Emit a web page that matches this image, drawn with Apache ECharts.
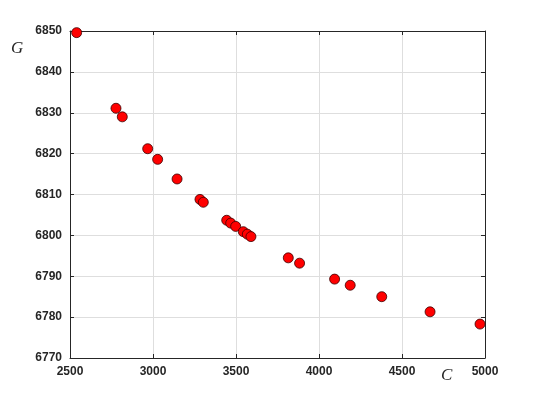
<!DOCTYPE html>
<html>
<head>
<meta charset="utf-8">
<script src="https://cdn.jsdelivr.net/npm/echarts@6/dist/echarts.min.js"></script>
<style>
  html, body { margin: 0; padding: 0; background: #fff; }
  #chart { width: 536px; height: 402px; }
</style>
</head>
<body>
<div id="chart"></div>
<script>
// C values (x) and G values (y)
var cValues = [2540, 2777, 2815, 2968, 3028, 3145, 3283, 3303, 3444, 3468, 3498, 3544, 3568, 3590, 3815, 3883, 4094, 4188, 4378, 4669, 4970];
var gValues = [6849.6, 6831.1, 6829.0, 6821.2, 6818.6, 6813.8, 6808.8, 6808.1, 6803.7, 6803.0, 6802.2, 6800.9, 6800.3, 6799.7, 6794.5, 6793.2, 6789.3, 6787.8, 6785.0, 6781.3, 6778.3];
var xTicks = [2500, 3000, 3500, 4000, 4500, 5000];
var yTicks = [6770, 6780, 6790, 6800, 6810, 6820, 6830, 6840, 6850];

var points = cValues.map(function (c, i) { return [c, gValues[i]]; });

var axisColor = '#262626';
var labelFont = {
    color: axisColor,
    fontFamily: 'Liberation Sans',
    fontWeight: 'bold',
    fontSize: 12
};

function mkAxis(pos, vals, show) {
    return {
        type: 'value',
        position: pos,
        min: vals[0],
        max: vals[vals.length - 1],
        interval: vals[1] - vals[0],
        axisLine: { show: true, onZero: false, lineStyle: { color: axisColor, width: 1 } },
        axisTick: { show: true, inside: true, length: 4, lineStyle: { color: axisColor } },
        axisLabel: Object.assign({ show: show, margin: 8, formatter: function (v) { return String(v); } }, labelFont),
        splitLine: { show: show, lineStyle: { color: '#dedede', width: 1 } }
    };
}

var myChart = echarts.init(document.getElementById('chart'));
var option = {
    backgroundColor: '#fff',
    animation: false,
    grid: { left: 70, right: 51, top: 31, bottom: 44 },
    xAxis: [mkAxis('bottom', xTicks, true), mkAxis('top', xTicks, false)],
    yAxis: [mkAxis('left', yTicks, true), mkAxis('right', yTicks, false)],
    graphic: [
        { type: 'text', left: 11, top: 40, style: { text: 'G', fontFamily: 'Liberation Serif', fontStyle: 'italic', fontSize: 17, fill: axisColor } },
        { type: 'text', left: 441, top: 367, style: { text: 'C', fontFamily: 'Liberation Serif', fontStyle: 'italic', fontSize: 17, fill: axisColor } }
    ],
    series: [{
        type: 'scatter',
        data: points,
        symbol: 'circle',
        symbolSize: 10,
        itemStyle: { color: '#ff0000', borderColor: '#3a0000', borderWidth: 0.8, opacity: 1 }
    }]
};
myChart.setOption(option);
</script>
</body>
</html>
